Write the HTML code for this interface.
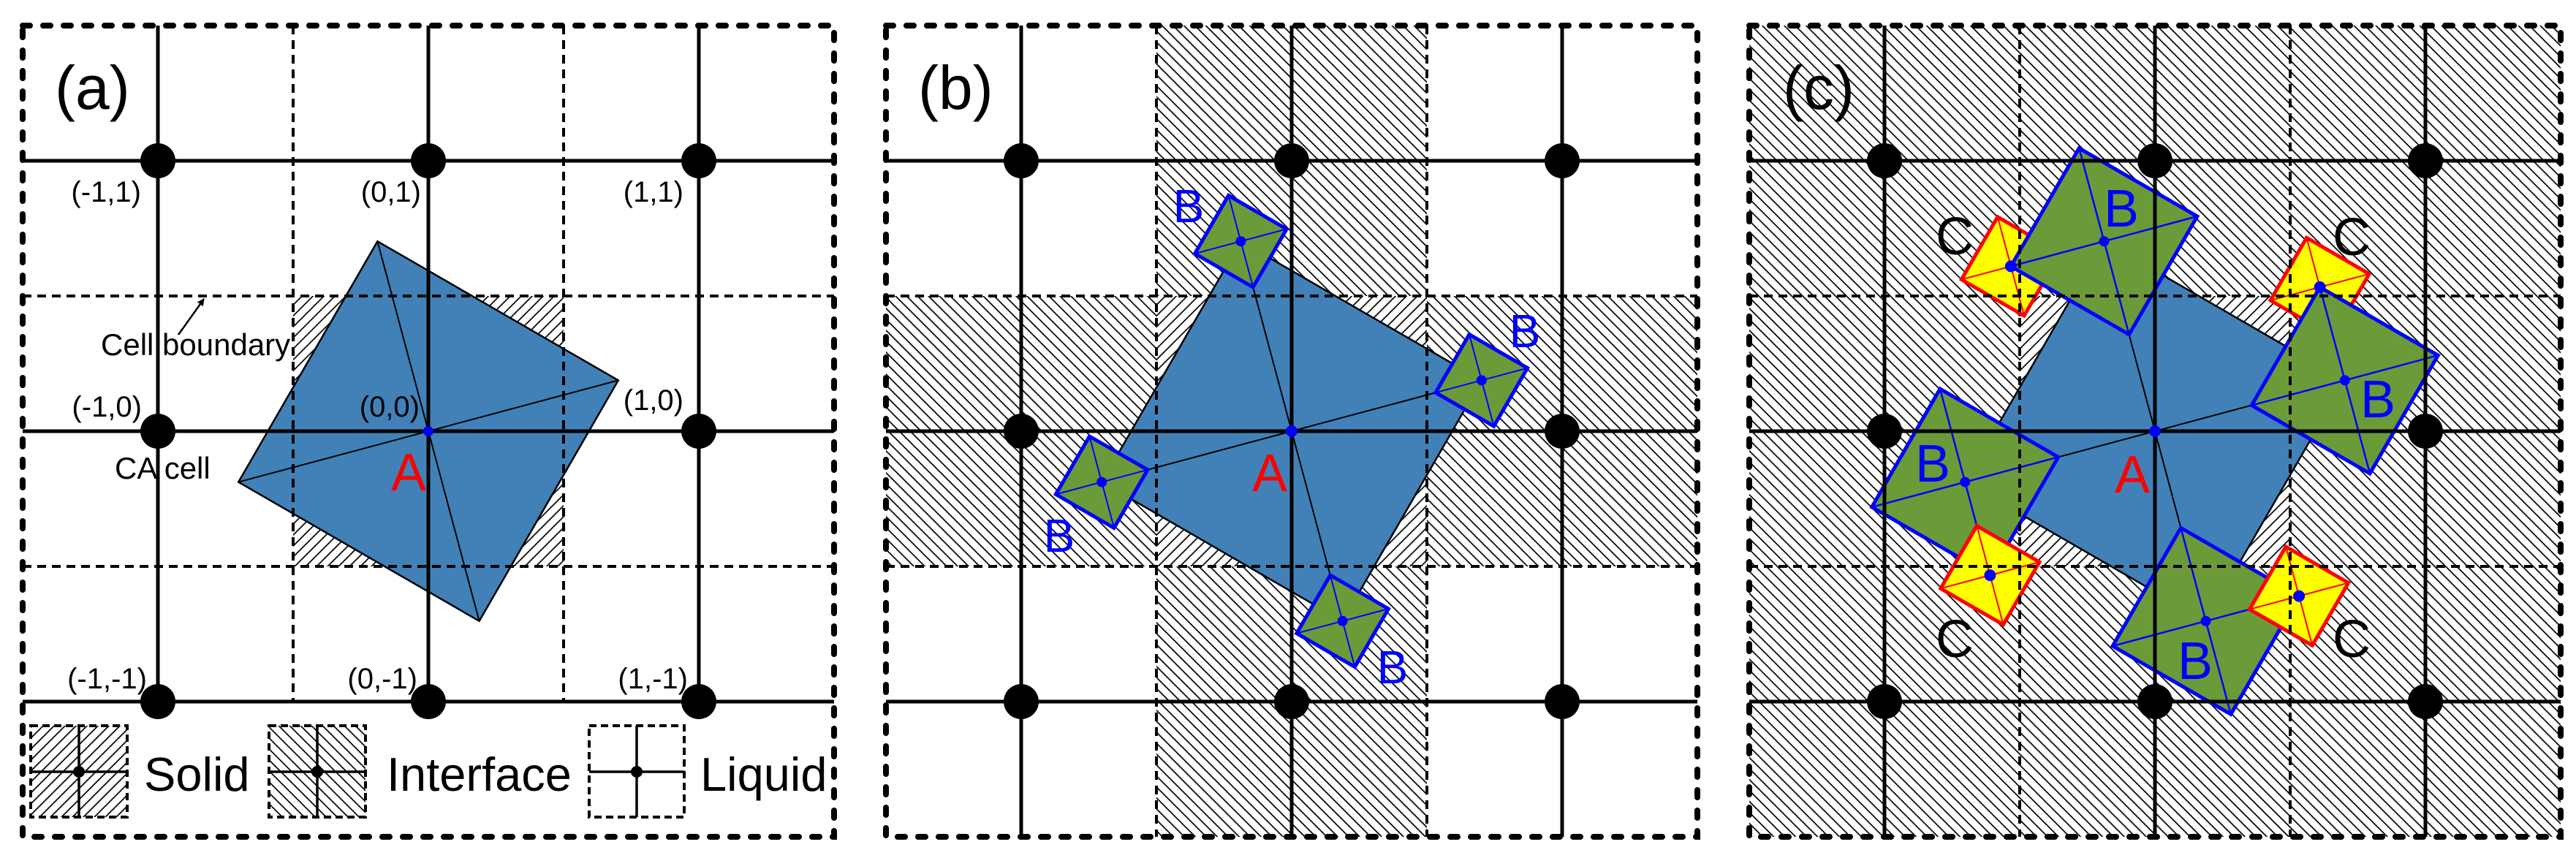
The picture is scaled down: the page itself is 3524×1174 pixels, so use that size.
<!DOCTYPE html>
<html><head><meta charset="utf-8"><style>html,body{margin:0;padding:0;background:#fff}svg{display:block}</style></head>
<body>
<svg xmlns="http://www.w3.org/2000/svg" width="3524" height="1174" viewBox="0 0 3524 1174" font-family="Liberation Sans, Arial, sans-serif">
<defs>
<pattern id="fw" width="10.6" height="10.6" patternUnits="userSpaceOnUse" patternTransform="rotate(45)"><line x1="2" y1="0" x2="2" y2="10.6" stroke="#000" stroke-width="1.7"/></pattern>
<pattern id="bw" width="10.6" height="10.6" patternUnits="userSpaceOnUse" patternTransform="rotate(-45)"><line x1="2" y1="0" x2="2" y2="10.6" stroke="#000" stroke-width="1.7"/></pattern>
<marker id="ar" markerWidth="10" markerHeight="10" refX="9" refY="5" orient="auto" markerUnits="userSpaceOnUse"><path d="M0,0 L10,5 L0,10 z" fill="#000"/></marker>
<g id="Apoly">
<polygon points="814.8,485.4 624.6,814.8 295.2,624.6 485.4,295.2" fill="#4181b8" stroke="#000" stroke-width="2.5"/>
<line x1="814.8" y1="485.4" x2="295.2" y2="624.6" stroke="#000" stroke-width="2"/>
<line x1="624.6" y1="814.8" x2="485.4" y2="295.2" stroke="#000" stroke-width="2"/>
</g>
<g id="gridLines">
<g stroke="#000" stroke-width="4" stroke-dasharray="12 8" fill="none">
<line x1="370" y1="0" x2="370" y2="1110"/><line x1="740" y1="0" x2="740" y2="1110"/>
<line x1="0" y1="370" x2="1110" y2="370"/><line x1="0" y1="740" x2="1110" y2="740"/>
</g>
<g stroke="#000" stroke-width="5">
<line x1="185" y1="0" x2="185" y2="1110"/><line x1="555" y1="0" x2="555" y2="1110"/><line x1="925" y1="0" x2="925" y2="1110"/>
<line x1="0" y1="185" x2="1110" y2="185"/><line x1="0" y1="555" x2="1110" y2="555"/><line x1="0" y1="925" x2="1110" y2="925"/>
</g>
</g>
<g id="dots" fill="#000">
<circle cx="185" cy="185" r="24"/><circle cx="555" cy="185" r="24"/><circle cx="925" cy="185" r="24"/>
<circle cx="185" cy="555" r="24"/><circle cx="925" cy="555" r="24"/>
<circle cx="185" cy="925" r="24"/><circle cx="555" cy="925" r="24"/><circle cx="925" cy="925" r="24"/>
</g>
<rect id="border" x="0" y="0" width="1110" height="1110" fill="none" stroke="#000" stroke-width="8" stroke-dasharray="10 18" stroke-linecap="round"/>
</defs>

<!-- Panel (a) -->
<g transform="translate(31,35)">
<rect x="370" y="370" width="370" height="370" fill="url(#fw)"/>
<use href="#Apoly"/>
<g stroke="#000" stroke-width="4" stroke-dasharray="12 8" fill="none">
<line x1="370" y1="0" x2="370" y2="925"/><line x1="740" y1="0" x2="740" y2="925"/>
<line x1="0" y1="370" x2="1110" y2="370"/><line x1="0" y1="740" x2="1110" y2="740"/>
</g>
<g stroke="#000" stroke-width="5">
<line x1="185" y1="0" x2="185" y2="925"/><line x1="555" y1="0" x2="555" y2="925"/><line x1="925" y1="0" x2="925" y2="925"/>
<line x1="0" y1="185" x2="1110" y2="185"/><line x1="0" y1="555" x2="1110" y2="555"/><line x1="0" y1="925" x2="1110" y2="925"/>
</g>
<use href="#dots"/>
<circle cx="555" cy="555" r="7" fill="#0000ff"/>
<use href="#border"/>
</g>
<g font-size="40" fill="#000" text-anchor="end">
<text x="193" y="276">(-1,1)</text><text x="576" y="276">(0,1)</text><text x="935" y="276">(1,1)</text>
<text x="194" y="570">(-1,0)</text><text x="574" y="570">(0,0)</text><text x="935" y="561">(1,0)</text>
<text x="201" y="942">(-1,-1)</text><text x="571" y="942">(0,-1)</text><text x="941" y="942">(1,-1)</text>
</g>
<text x="138" y="486" font-size="42">Cell boundary</text>
<text x="157" y="655" font-size="42">CA cell</text>
<line x1="244" y1="458" x2="279" y2="409" stroke="#000" stroke-width="2.5" marker-end="url(#ar)"/>
<text x="559" y="671" font-size="72" fill="#ff0000" text-anchor="middle">A</text>
<text x="75" y="149" font-size="84">(a)</text>
<!-- legend -->
<g stroke="#000">
<rect x="42" y="993" width="132" height="125" fill="url(#fw)" stroke-width="4" stroke-dasharray="10 6"/>
<line x1="42" y1="1056" x2="174" y2="1056" stroke-width="3.5"/><line x1="108" y1="993" x2="108" y2="1118" stroke-width="3.5"/>
<rect x="368" y="993" width="132" height="125" fill="url(#bw)" stroke-width="4" stroke-dasharray="10 6"/>
<line x1="368" y1="1056" x2="500" y2="1056" stroke-width="3.5"/><line x1="434" y1="993" x2="434" y2="1118" stroke-width="3.5"/>
<rect x="806" y="993" width="130" height="125" fill="none" stroke-width="4" stroke-dasharray="10 6"/>
<line x1="806" y1="1056" x2="936" y2="1056" stroke-width="3.5"/><line x1="871" y1="993" x2="871" y2="1118" stroke-width="3.5"/>
</g>
<circle cx="108" cy="1056" r="8"/><circle cx="434" cy="1056" r="8"/><circle cx="871" cy="1056" r="8"/>
<g font-size="65"><text x="197" y="1082">Solid</text><text x="529" y="1082">Interface</text><text x="958" y="1082">Liquid</text></g>

<!-- Panel (b) -->
<g transform="translate(1212,35)">
<rect x="370" y="0" width="370" height="370" fill="url(#bw)"/>
<rect x="0" y="370" width="370" height="370" fill="url(#bw)"/>
<rect x="740" y="370" width="370" height="370" fill="url(#bw)"/>
<rect x="370" y="740" width="370" height="370" fill="url(#bw)"/>
<rect x="370" y="370" width="370" height="370" fill="url(#fw)"/>
<use href="#Apoly"/>
<g fill="#6b9a38" stroke="#0000ff">
<polygon points="548.2,278.4 502.2,358.0 422.6,312.0 468.6,232.4" stroke-width="5"/>
<line x1="548.2" y1="278.4" x2="422.6" y2="312.0" stroke-width="2"/><line x1="502.2" y1="358.0" x2="468.6" y2="232.4" stroke-width="2"/>
<polygon points="877.6,468.6 831.6,548.2 752.0,502.2 798.0,422.6" stroke-width="5"/>
<line x1="877.6" y1="468.6" x2="752.0" y2="502.2" stroke-width="2"/><line x1="831.6" y1="548.2" x2="798.0" y2="422.6" stroke-width="2"/>
<polygon points="687.4,798.0 641.4,877.6 561.8,831.6 607.8,752.0" stroke-width="5"/>
<line x1="687.4" y1="798.0" x2="561.8" y2="831.6" stroke-width="2"/><line x1="641.4" y1="877.6" x2="607.8" y2="752.0" stroke-width="2"/>
<polygon points="358.0,607.8 312.0,687.4 232.4,641.4 278.4,562.0" stroke-width="5"/>
<line x1="358.0" y1="607.8" x2="232.4" y2="641.4" stroke-width="2"/><line x1="312.0" y1="687.4" x2="278.4" y2="562.0" stroke-width="2"/>
</g>
<use href="#gridLines"/>
<use href="#dots"/>
<g fill="#0000ff"><circle cx="555" cy="555" r="8"/><circle cx="485.4" cy="295.2" r="7"/><circle cx="814.8" cy="485.4" r="7"/><circle cx="624.6" cy="814.8" r="7"/><circle cx="295.2" cy="624.6" r="7"/></g>
<use href="#border"/>
<g font-size="64" fill="#0000ff" text-anchor="middle">
<text x="414" y="269">B</text><text x="874" y="440">B</text><text x="237" y="720">B</text><text x="693" y="900">B</text>
</g>
<text x="525" y="637" font-size="72" fill="#ff0000" text-anchor="middle">A</text>
<text x="44" y="114" font-size="84">(b)</text>
</g>

<!-- Panel (c) -->
<g transform="translate(2393,35)">
<rect x="0" y="0" width="1110" height="1110" fill="url(#bw)"/>
<rect x="370" y="370" width="370" height="370" fill="#fff"/>
<rect x="370" y="370" width="370" height="370" fill="url(#fw)"/>
<use href="#Apoly"/>
<g fill="#ffff00" stroke="#ff0000">
<polygon points="425.5,311.3 376.0,397.0 290.3,347.5 339.8,261.8" stroke-width="5"/>
<line x1="425.5" y1="311.3" x2="290.3" y2="347.5" stroke-width="2"/><line x1="376.0" y1="397.0" x2="339.8" y2="261.8" stroke-width="2"/>
<polygon points="848.2,339.8 798.7,425.5 713.0,376.0 762.5,290.3" stroke-width="5"/>
<line x1="848.2" y1="339.8" x2="713.0" y2="376.0" stroke-width="2"/><line x1="798.7" y1="425.5" x2="762.5" y2="290.3" stroke-width="2"/>
</g>
<g fill="#6b9a38" stroke="#0000ff">
<polygon points="612.9,261.0 519.6,422.7 357.9,329.4 451.2,167.7" stroke-width="5"/>
<line x1="612.9" y1="261.0" x2="357.9" y2="329.4" stroke-width="2.5"/><line x1="519.6" y1="422.7" x2="451.2" y2="167.7" stroke-width="2.5"/>
<polygon points="942.3,451.2 849.0,612.9 687.3,519.6 780.6,357.9" stroke-width="5"/>
<line x1="942.3" y1="451.2" x2="687.3" y2="519.6" stroke-width="2.5"/><line x1="849.0" y1="612.9" x2="780.6" y2="357.9" stroke-width="2.5"/>
<polygon points="752.1,780.6 658.8,942.3 497.1,849.0 590.4,687.3" stroke-width="5"/>
<line x1="752.1" y1="780.6" x2="497.1" y2="849.0" stroke-width="2.5"/><line x1="658.8" y1="942.3" x2="590.4" y2="687.3" stroke-width="2.5"/>
<polygon points="422.7,590.4 329.4,752.1 167.7,658.8 261.0,497.1" stroke-width="5"/>
<line x1="422.7" y1="590.4" x2="167.7" y2="658.8" stroke-width="2.5"/><line x1="329.4" y1="752.1" x2="261.0" y2="497.1" stroke-width="2.5"/>
</g>
<g fill="#ffff00" stroke="#ff0000">
<polygon points="819.7,762.5 770.2,848.2 684.5,798.7 734.0,713.0" stroke-width="5"/>
<line x1="819.7" y1="762.5" x2="684.5" y2="798.7" stroke-width="2"/><line x1="770.2" y1="848.2" x2="734.0" y2="713.0" stroke-width="2"/>
<polygon points="397.0,734.0 347.5,819.7 261.8,770.2 311.3,684.5" stroke-width="5"/>
<line x1="397.0" y1="734.0" x2="261.8" y2="770.2" stroke-width="2"/><line x1="347.5" y1="819.7" x2="311.3" y2="684.5" stroke-width="2"/>
</g>
<use href="#gridLines"/>
<use href="#dots"/>
<g fill="#0000ff">
<circle cx="555" cy="555" r="8"/>
<circle cx="485.4" cy="295.2" r="7"/><circle cx="814.8" cy="485.4" r="7"/><circle cx="624.6" cy="814.8" r="7"/><circle cx="295.2" cy="624.6" r="7"/>
<circle cx="357.9" cy="329.4" r="8"/><circle cx="780.6" cy="357.9" r="8"/><circle cx="752.1" cy="780.6" r="8"/><circle cx="329.4" cy="752.1" r="8"/>
</g>
<use href="#border"/>
<g font-size="72" fill="#0000ff" text-anchor="middle">
<text x="509" y="275">B</text><text x="860" y="536">B</text><text x="251" y="624">B</text><text x="610" y="894">B</text>
</g>
<g font-size="72" fill="#000" text-anchor="middle">
<text x="281" y="313">C</text><text x="824" y="314">C</text><text x="281" y="864">C</text><text x="824" y="864">C</text>
</g>
<text x="524" y="639" font-size="72" fill="#ff0000" text-anchor="middle">A</text>
<text x="46" y="114" font-size="84">(c)</text>
</g>
</svg>
</body></html>
